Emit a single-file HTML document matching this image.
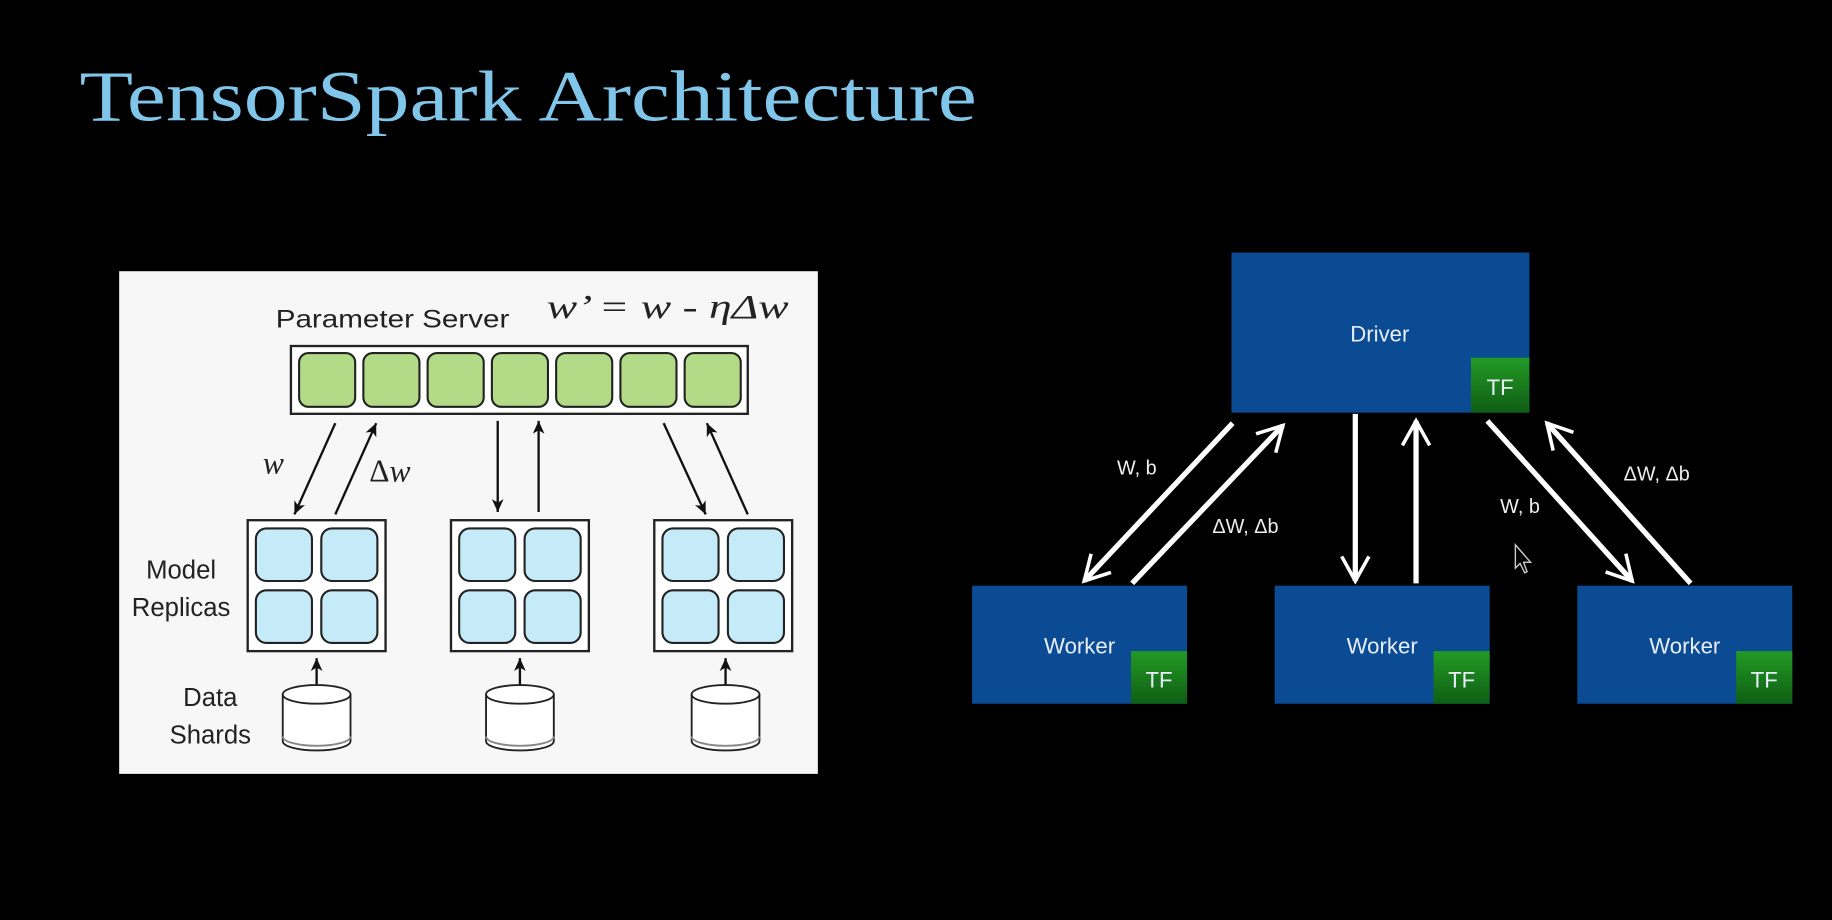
<!DOCTYPE html>
<html><head><meta charset="utf-8"><style>
html,body{margin:0;padding:0;background:#000;}
svg{display:block;}
</style></head><body>
<svg width="1832" height="920" viewBox="0 0 1568 787" preserveAspectRatio="none" xmlns="http://www.w3.org/2000/svg">
<defs>
<marker id="ab" viewBox="0 0 12 12" refX="11" refY="6" markerWidth="12" markerHeight="12" orient="auto" markerUnits="userSpaceOnUse">
<path d="M0,1 L11,6 L0,11 L3,6 Z" fill="#111"/></marker>
<marker id="aw" viewBox="0 0 12 12" refX="10" refY="6" markerWidth="28" markerHeight="28" orient="auto" markerUnits="userSpaceOnUse">
<path d="M1,1 L10,6 L1,11" fill="none" stroke="#fff" stroke-width="1.3"/></marker>
<linearGradient id="tf" x1="0" y1="0" x2="0" y2="1"><stop offset="0" stop-color="#239a25"/><stop offset="1" stop-color="#0f5e14"/></linearGradient>
</defs>
<rect width="1568" height="787" fill="#000"/>
<text x="68" y="103" font-family="Liberation Serif, serif" font-size="62" fill="#80c6ea" textLength="768" lengthAdjust="spacingAndGlyphs">TensorSpark Architecture</text>

<rect x="102" y="232" width="598" height="430" fill="#f7f7f7"/>
<text x="236" y="280" font-family="Liberation Sans, sans-serif" font-size="21" fill="#222" textLength="200" lengthAdjust="spacingAndGlyphs">Parameter Server</text>
<text x="468" y="272" font-family="Liberation Serif, serif" font-style="italic" font-size="29" fill="#222" textLength="207" lengthAdjust="spacingAndGlyphs">w’ = w - ηΔw</text>
<rect x="249" y="296" width="391" height="58" fill="#fff" stroke="#222" stroke-width="2"/>
<g fill="#b3da87" stroke="#222" stroke-width="1.8">
<rect x="256" y="302" width="48" height="46" rx="8"/><rect x="311" y="302" width="48" height="46" rx="8"/>
<rect x="366" y="302" width="48" height="46" rx="8"/><rect x="421" y="302" width="48" height="46" rx="8"/>
<rect x="476" y="302" width="48" height="46" rx="8"/><rect x="531" y="302" width="48" height="46" rx="8"/>
<rect x="586" y="302" width="48" height="46" rx="8"/>
</g>
<g stroke="#111" stroke-width="2" marker-end="url(#ab)">
<line x1="287" y1="362" x2="252" y2="440"/><line x1="287" y1="440" x2="322" y2="362"/>
<line x1="426" y1="360" x2="426" y2="438"/><line x1="461" y1="438" x2="461" y2="360"/>
<line x1="568" y1="362" x2="604" y2="440"/><line x1="640" y1="440" x2="605" y2="362"/>
<line x1="271" y1="590" x2="271" y2="563"/><line x1="445" y1="590" x2="445" y2="563"/><line x1="621" y1="590" x2="621" y2="563"/>
</g>
<text x="225" y="405" font-family="Liberation Serif, serif" font-style="italic" font-size="27" fill="#222">w</text>
<text x="316" y="412" font-family="Liberation Serif, serif" font-size="27" fill="#222">Δ<tspan font-style="italic">w</tspan></text>
<g font-family="Liberation Sans, sans-serif" font-size="22" fill="#222" text-anchor="middle">
<text x="155" y="495">Model</text><text x="155" y="527">Replicas</text>
<text x="180" y="604">Data</text><text x="180" y="636">Shards</text>
</g>
<g>
<rect x="212" y="445" width="118" height="112" fill="#fff" stroke="#222" stroke-width="2"/>
<rect x="386" y="445" width="118" height="112" fill="#fff" stroke="#222" stroke-width="2"/>
<rect x="560" y="445" width="118" height="112" fill="#fff" stroke="#222" stroke-width="2"/>
</g>
<g fill="#c6ebf8" stroke="#222" stroke-width="1.8">
<rect x="219" y="452" width="48" height="45" rx="9"/><rect x="275" y="452" width="48" height="45" rx="9"/>
<rect x="219" y="505" width="48" height="45" rx="9"/><rect x="275" y="505" width="48" height="45" rx="9"/>
<rect x="393" y="452" width="48" height="45" rx="9"/><rect x="449" y="452" width="48" height="45" rx="9"/>
<rect x="393" y="505" width="48" height="45" rx="9"/><rect x="449" y="505" width="48" height="45" rx="9"/>
<rect x="567" y="452" width="48" height="45" rx="9"/><rect x="623" y="452" width="48" height="45" rx="9"/>
<rect x="567" y="505" width="48" height="45" rx="9"/><rect x="623" y="505" width="48" height="45" rx="9"/>
</g>
<g fill="#fff" stroke="#222" stroke-width="1.6">
<path d="M242,594 L242,634 A29,8 0 0 0 300,634 L300,594"/><ellipse cx="271" cy="594" rx="29" ry="8"/><path d="M242,630 A29,8 0 0 0 300,630" fill="none" stroke="#888"/>
<path d="M416,594 L416,634 A29,8 0 0 0 474,634 L474,594"/><ellipse cx="445" cy="594" rx="29" ry="8"/><path d="M416,630 A29,8 0 0 0 474,630" fill="none" stroke="#888"/>
<path d="M592,594 L592,634 A29,8 0 0 0 650,634 L650,594"/><ellipse cx="621" cy="594" rx="29" ry="8"/><path d="M592,630 A29,8 0 0 0 650,630" fill="none" stroke="#888"/>
</g>

<g fill="#0a4b93">
<rect x="1054" y="216" width="255" height="137"/>
<rect x="832" y="501" width="184" height="101"/>
<rect x="1091" y="501" width="184" height="101"/>
<rect x="1350" y="501" width="184" height="101"/>
</g>
<g fill="url(#tf)">
<rect x="1259" y="306" width="50" height="47"/>
<rect x="968" y="557" width="48" height="45"/>
<rect x="1227" y="557" width="48" height="45"/>
<rect x="1486" y="557" width="48" height="45"/>
</g>
<g font-family="Liberation Sans, sans-serif" fill="#e8eef8" text-anchor="middle">
<text x="1181" y="292" font-size="19">Driver</text>
<text x="924" y="559" font-size="19">Worker</text>
<text x="1183" y="559" font-size="19">Worker</text>
<text x="1442" y="559" font-size="19">Worker</text>
<text x="1284" y="338" font-size="19">TF</text>
<text x="992" y="588" font-size="19">TF</text>
<text x="1251" y="588" font-size="19">TF</text>
<text x="1510" y="588" font-size="19">TF</text>
</g>
<g stroke="#fff" stroke-width="4.5" marker-end="url(#aw)">
<line x1="1055" y1="362" x2="928" y2="497"/>
<line x1="969" y1="499" x2="1098" y2="364"/>
<line x1="1160" y1="354" x2="1160" y2="497"/>
<line x1="1212" y1="499" x2="1212" y2="360"/>
<line x1="1273" y1="360" x2="1397" y2="497"/>
<line x1="1447" y1="499" x2="1324" y2="362"/>
</g>
<g font-family="Liberation Sans, sans-serif" font-size="17" fill="#eee" text-anchor="middle">
<text x="973" y="406">W, b</text>
<text x="1066" y="456">ΔW, Δb</text>
<text x="1301" y="439">W, b</text>
<text x="1418" y="411">ΔW, Δb</text>
</g>
<path d="M1297,466 L1297,486 L1301,482 L1305,490 L1307,489 L1304,481 L1310,481 Z" fill="#000" stroke="#ccc" stroke-width="1.2"/>
</svg>
</body></html>
